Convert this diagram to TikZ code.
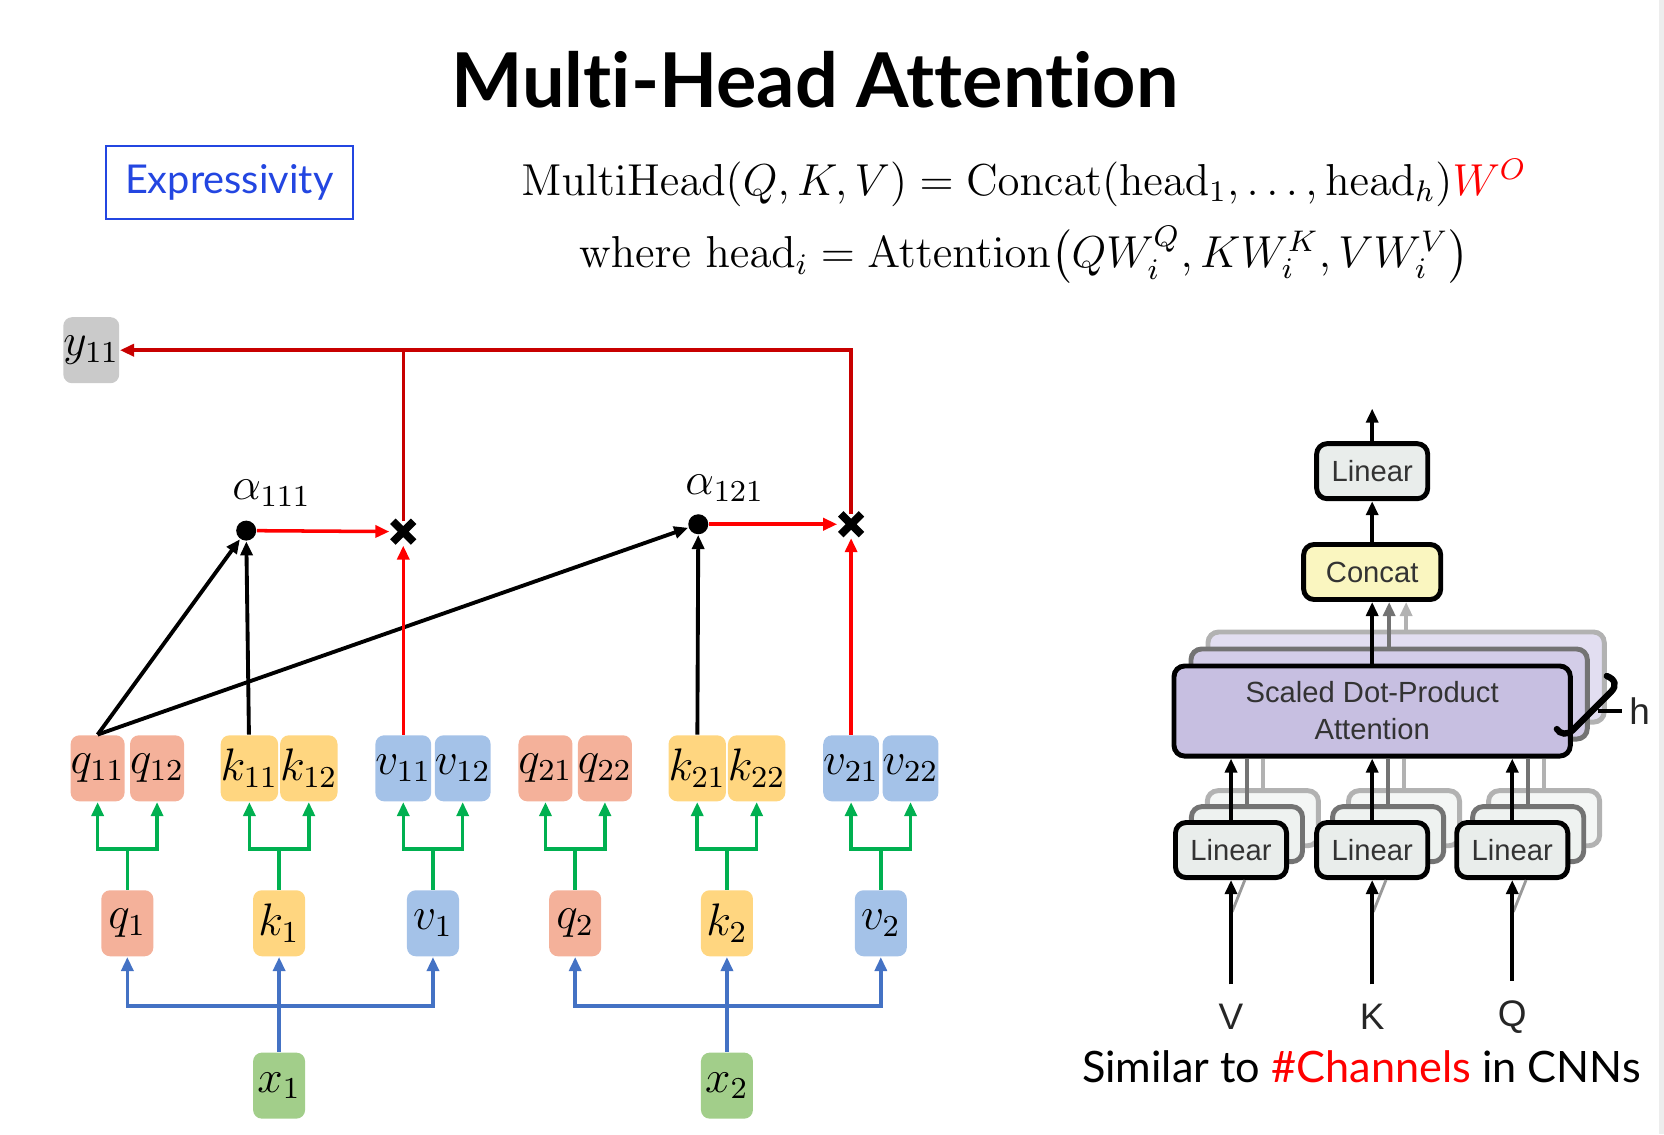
\documentclass[tikz,border=0pt]{standalone}
\usepackage[no-math]{fontspec}
\newfontfamily\gill{Lato}[Ligatures={NoCommon,NoRare}]
\newfontfamily\helv{Liberation Sans}
\usepackage{amsmath}
\usetikzlibrary{calc, positioning, arrows.meta, shapes.misc}

\definecolor{qfill}{RGB}{244,177,154}
\definecolor{kfill}{RGB}{255,214,128}
\definecolor{vfill}{RGB}{164,194,232}
\definecolor{xfill}{RGB}{162,206,138}
\definecolor{yfill}{RGB}{202,202,202}
\definecolor{garrow}{RGB}{0,176,80}
\definecolor{barrow}{RGB}{68,114,196}
\definecolor{redtopc}{RGB}{200,0,0}
\definecolor{redlowc}{RGB}{255,0,0}
\definecolor{exblue}{RGB}{35,70,225}
\definecolor{linfill}{RGB}{233,237,235}
\definecolor{concfill}{RGB}{250,246,192}
\definecolor{sdpaA}{RGB}{199,191,225}
\definecolor{sdpaB}{RGB}{211,205,232}
\definecolor{sdpaC}{RGB}{226,222,241}

% math label, a little larger than 12pt
\newcommand{\tokm}[1]{\scalebox{1.08}{$#1$}}

\begin{document}
\begin{tikzpicture}[x=0.0106cm, y=-0.0106cm,
    tok/.style={rounded corners=2.5pt, minimum width=0.52cm, minimum height=0.66cm,
        inner sep=0pt, font=\fontsize{12}{14}\selectfont},
    dot/.style={circle, fill=black, inner sep=0pt, minimum size=0.2cm},
    mul/.style={cross out, draw=black, line width=2.2pt, inner sep=0pt, minimum size=0.13cm},
    lbl/.style={font=\fontsize{12}{14}\selectfont},
    eqn/.style={inner sep=0pt, font=\fontsize{12}{14}\selectfont, scale=1.06, transform shape},
    tip/.style={-{Triangle[length=4pt,width=3.4pt]}},
    grn/.style={draw=garrow, line width=1pt},
    blu/.style={draw=barrow, line width=1pt},
    blk/.style={draw=black, line width=1.1pt},
    redln/.style={draw=redlowc, line width=1pt},
    redtop/.style={draw=redtopc, line width=1pt},
    box/.style={rounded corners=3pt, line width=1.4pt, draw=black, text=black!80,
        font=\helv\fontsize{8.3}{10.5}\selectfont, align=center},
    helvl/.style={font=\helv\fontsize{10.5}{12}\selectfont, text=black!85}]
\useasboundingbox (0,0) rectangle (1568,1069);
\fill[black!7] (1563,0) rectangle (1568,1069);

% Title, tag and formula
\node[font=\gill\bfseries\fontsize{21.5}{25}\selectfont] (title) at (768,75) {Multi-Head Attention};
\node[draw=exblue, line width=0.6pt, minimum width=2.47cm, minimum height=0.73cm,
    font=\gill\fontsize{11.3}{13}\selectfont, text=exblue] (expr) at (216,172) {Expressivity};
\node[eqn] (eq1) at (965,172)
    {$\mathrm{MultiHead}(Q,K,V)=\mathrm{Concat}(\mathrm{head}_1,\dots,\mathrm{head}_h)\textcolor{redlowc}{W^O}$};
\node[eqn] (eq2) at (965,240)
    {$\mathrm{where}\ \mathrm{head}_i=\mathrm{Attention}\bigl(QW_i^Q,KW_i^K,VW_i^V\bigr)$};

% Tokens of the two heads
\foreach \i/\off in {1/0, 2/422} {
  \node[tok, fill=xfill] (x\i) at ({263+\off},1023) {\tokm{x_{\i}}};
  \coordinate (bx\i) at ({263+\off},948);
  \foreach \s/\c/\x in {q/qfill/120, k/kfill/263, v/vfill/408} {
    \node[tok, fill=\c] (\s\i) at ({\x+\off},870) {\tokm{\s_{\i}}};
    \node[tok, fill=\c] (\s\i1) at ({\x+\off-28},724) {\tokm{\s_{\i1}}};
    \node[tok, fill=\c] (\s\i2) at ({\x+\off+28},724) {\tokm{\s_{\i2}}};
    \coordinate (b\s\i) at ({\x+\off},800);
    \draw[grn] (\s\i) -- (b\s\i);
    \draw[grn, tip] (b\s\i) -| (\s\i1);
    \draw[grn, tip] (b\s\i) -| (\s\i2);
  }
  \draw[blu] (x\i) -- (bx\i);
  \draw[blu, tip] (bx\i) -| (q\i);
  \draw[blu, tip] (bx\i) -| (v\i);
  \draw[blu, tip] (bx\i) -- (k\i);
}

% Attention weights and output
\node[tok, fill=yfill] (y11) at (86,330) {\tokm{y_{11}}};
\node[dot] (a111) at (232,500) {};
\node[dot] (a121) at (658,494) {};
\node[lbl] (l111) at (256,465) {\tokm{\alpha_{111}}};
\node[lbl] (l121) at (683,460) {\tokm{\alpha_{121}}};
\node[mul] (m1) at (380,501) {};
\node[mul] (m2) at (802,494) {};
\coordinate (c1) at (380,330);
\coordinate (c2) at (802,330);

\draw[blk, tip] (q11.north) -- (a111);
\draw[blk, tip] (q11.north) -- (a121);
\draw[blk, tip] (k11) -- (a111);
\draw[blk, tip] (k21) -- (a121);
\draw[redln, tip, shorten >=1pt] (a111) -- (m1);
\draw[redln, tip, shorten >=1pt] (a121) -- (m2);
\draw[redln, tip, shorten >=1pt] (v11) -- (m1);
\draw[redln, tip, shorten >=1pt] (v21) -- (m2);
\draw[redtop] (m1) -- (c1);
\draw[redtop, tip] (m2) -- (c2) -- (y11);

% Multi-head block (right)
\foreach \n/\o/\c/\f in {sdpa3/32/black!30/sdpaC, sdpa2/16/black!55/sdpaB}
  \node[box, draw=\c, fill=\f, minimum width=3.96cm, minimum height=0.9cm] (\n) at ({1293+\o},{670-\o}) {};
\node[box, fill=sdpaA, minimum width=3.96cm, minimum height=0.9cm] (sdpa) at (1293,670)
    {Scaled Dot-Product\\Attention};

\foreach \n/\x/\t in {lv/1160/V, lk/1293/K, lq/1425/Q} {
  \node[box, draw=black!30, fill=linfill!50, minimum width=1.11cm, minimum height=0.55cm] (\n3) at ({\x+30},771) {};
  \node[box, draw=black!55, fill=linfill!75, minimum width=1.11cm, minimum height=0.55cm] (\n2) at ({\x+15},786) {};
  \node[box, fill=linfill, minimum width=1.11cm, minimum height=0.55cm] (\n) at (\x,801) {Linear};
  \draw[line width=1pt, black!30] (\n3.north) -- (\n3.north |- sdpa.south);
  \draw[line width=1pt, black!55] (\n2.north) -- (\n2.north |- sdpa.south);
  \draw[blk, tip] (\n) -- (\n |- sdpa.south);
  \node[helvl] (in\t) at (\x,958) {\t};
  \draw[line width=0.8pt, black!40] ($(\n.south)+(1,30)$) -- ($(\n.south)+(13,0)$);
  \draw[blk, tip] ([yshift=2pt]in\t.north) -- (\n);
}

\node[box, fill=concfill, minimum width=1.37cm, minimum height=0.55cm] (concat) at (1293,539) {Concat};
\node[box, fill=linfill, minimum width=1.11cm, minimum height=0.55cm] (lin) at (1293,444) {Linear};
\coordinate (out) at (1293,385);
\draw[line width=1pt, black!30, tip] (sdpa3.north) -- (sdpa3.north |- concat.south);
\draw[line width=1pt, black!55, tip] (sdpa2.north) -- (sdpa2.north |- concat.south);
\draw[blk, tip] (sdpa) -- (concat);
\draw[blk, tip] (concat) -- (lin);
\draw[blk, tip] (lin) -- (out);

% h bracket
\draw[line width=1.8pt, line cap=round] (1514,637) .. controls (1522,640) and (1524,646) .. (1518,652)
    -- (1482,688) .. controls (1477,693) and (1470,692) .. (1467,687);
\draw[line width=1pt] (1506,670) -- (1528,670);
\node[helvl] (hlab) at (1545,670) {h};

\node[font=\gill\fontsize{12.3}{15}\selectfont] (sim) at (1283,1005)
    {Similar to \textcolor{redlowc}{\#Channels} in CNNs};
\end{tikzpicture}
\end{document}
